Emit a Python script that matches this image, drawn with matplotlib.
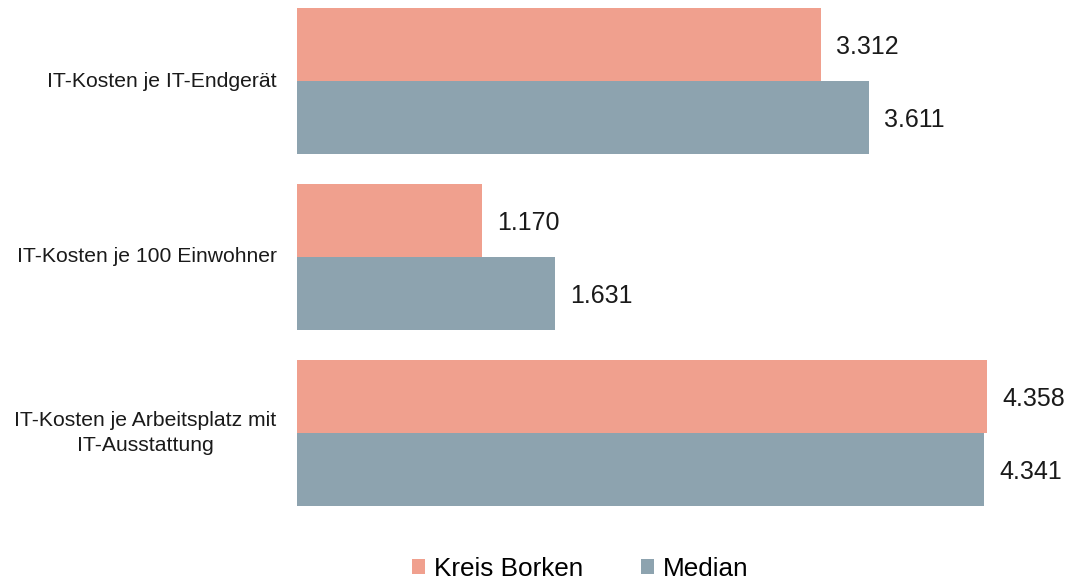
import matplotlib.pyplot as plt
import numpy as np

plt.rcParams['font.family'] = ['Liberation Sans', 'DejaVu Sans']

# Kategorien und Werte (Euro)
kategorien = ["IT-Kosten je IT-Endgerät",
              "IT-Kosten je 100 Einwohner",
              "IT-Kosten je Arbeitsplatz mit\nIT-Ausstattung"]
kreis_borken = [3312, 1170, 4358]
median = [3611, 1631, 4341]

farbe_kreis = "#F0A08E"
farbe_median = "#8DA3AF"
textfarbe = "#1a1a1a"

fig = plt.figure(figsize=(10.69, 5.81), dpi=100)
ax = fig.add_axes([297/1069, 75/581, 772/1069, 498/581])

y = np.arange(len(kategorien))
h = 0.415
b1 = ax.barh(y - h/2, kreis_borken, height=h, color=farbe_kreis, label="Kreis Borken")
b2 = ax.barh(y + h/2, median, height=h, color=farbe_median, label="Median")

def fmt(v):
    return f"{v:,}".replace(",", ".")

for bars, werte in ((b1, kreis_borken), (b2, median)):
    for rect, v in zip(bars, werte):
        ax.text(rect.get_width() + 95, rect.get_y() + rect.get_height()/2 + 0.015, fmt(v),
                va='center', ha='left', fontsize=18, color=textfarbe)

ax.set_xlim(0, 772/0.1583)
ax.set_ylim(2 + h, -h)
ax.set_xticks([])
ax.set_yticks([])
for s in ax.spines.values():
    s.set_visible(False)

for yi, lab in zip(y, kategorien):
    ax.text(-128, yi, lab, ha='right', va='center', multialignment='center',
            fontsize=15.2, color=textfarbe, linespacing=1.42)

fig.legend(handles=[b1, b2], loc='center', bbox_to_anchor=(0.5426, 1 - 569/581),
           ncol=2, frameon=False, fontsize=18.8, handlelength=0.5, handleheight=0.5,
           handletextpad=0.35, columnspacing=2.2)

plt.savefig("out.png", dpi=100)
